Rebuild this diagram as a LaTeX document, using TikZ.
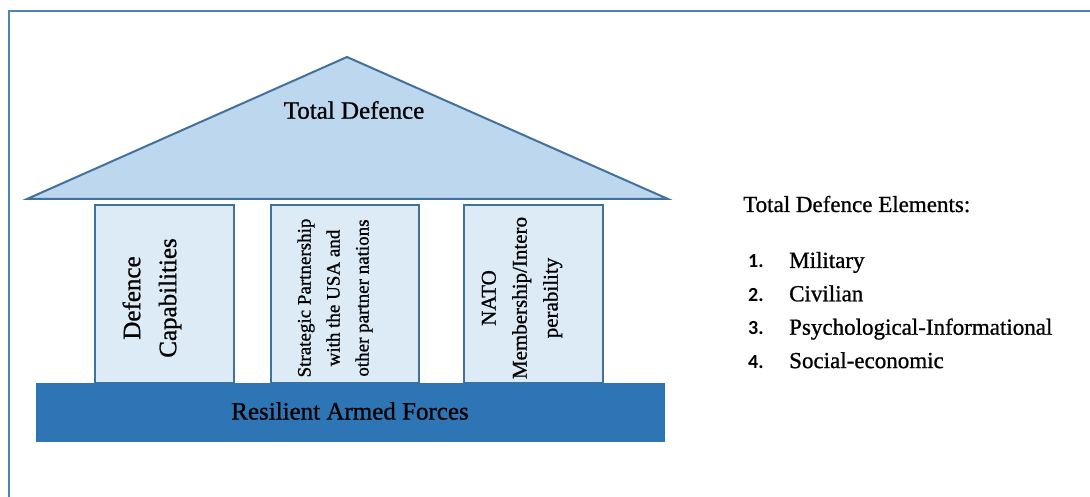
\documentclass[tikz,border=0pt]{standalone}
\usepackage{fontspec}
\setmainfont{Liberation Serif}[FakeBold=0.9]
\newfontfamily\numfont{Carlito}
\usetikzlibrary{positioning}
\definecolor{roofblue}{RGB}{189,215,238}
\definecolor{pillarblue}{RGB}{221,235,247}
\definecolor{baseblue}{RGB}{46,117,182}
\definecolor{edgeblue}{RGB}{65,113,156}
\definecolor{frameblue}{RGB}{79,129,189}

\begin{document}
\begin{tikzpicture}[x=1pt,y=1pt,yscale=-1,
	roof/.style={draw=edgeblue, line width=2pt, fill=roofblue},
	pillar/.style={draw=edgeblue, line width=2pt, fill=pillarblue},
	pillartext/.style={rotate=90, align=center, inner sep=0pt},
	listnum/.style={anchor=base west, inner sep=0pt, font=\numfont\bfseries\fontsize{20}{24}\selectfont},
	listitem/.style={anchor=base west, inner sep=0pt, font=\fontsize{23}{28}\selectfont}]
	\useasboundingbox (0,0) rectangle (1090,497);
	
	\draw [frameblue, line width=1.5pt]   (9,497) -- (9,11) -- (1090,11) ;
	
	% roof
	\draw [roof]   (27,199) -- (347,57) -- (668,199) -- cycle ;
	\node (total) at (354,110) {\fontsize{25}{30}\selectfont Total Defence};
	
	% pillars
	\draw [pillar]   (95,205) rectangle (234,383) ;
	\draw [pillar]   (271,205) rectangle (419,383) ;
	\draw [pillar]   (464,205) rectangle (603,383) ;
	\node [pillartext, font=\fontsize{25}{36}\selectfont] (capab) at (152,298) {Defence\\Capabilities};
	\node [pillartext, font=\fontsize{19}{29}\selectfont] (partner) at (335,298) {Strategic Partnership\\with the USA and\\other partner nations};
	\node [pillartext, font=\fontsize{21}{31}\selectfont] (nato) at (522,298) {NATO\\Membership/Intero\\perability};
	
	% base
	\draw [draw=baseblue, fill=baseblue]   (36,383) rectangle (664,441) ;
	\node (forces) at (350,411) {\fontsize{25}{30}\selectfont Resilient Armed Forces};
	
	% elements
	\node [listitem] (head) at (743,212) {Total Defence Elements:};
	\foreach \elem [count=\i] in {Military, Civilian, Psychological-Informational, Social-economic}
	{
		\node [listnum] (num\i) at (748,234.5+33.4*\i) {\i.};
		\node [listitem] (elem\i) at (789,234.5+33.4*\i) {\elem};
	}
	
\end{tikzpicture}
\end{document}
